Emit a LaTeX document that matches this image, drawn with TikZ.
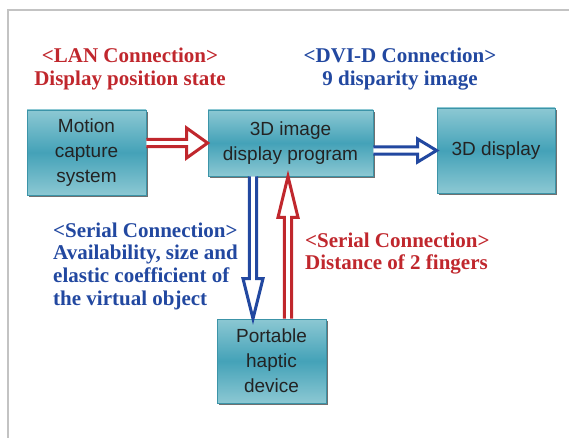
\documentclass[tikz,border=0pt]{standalone}
\usepackage{fontspec}
\setmainfont{Liberation Serif}
\setsansfont{Liberation Sans}
\usetikzlibrary{calc,shadows}

\definecolor{boxtop}{RGB}{140,200,211}
\definecolor{boxmid}{RGB}{68,162,184}
\definecolor{boxline}{RGB}{60,148,168}
\definecolor{boxtext}{RGB}{35,35,35}
\definecolor{linkred}{RGB}{192,39,45}
\definecolor{linkblue}{RGB}{34,72,160}
\definecolor{framegray}{RGB}{195,195,195}

% hollow block arrow pointing right: from, to, colour, head half height, head length
\newcommand{\hblock}[5]{%
  \draw[blockarrow,draw=#3] let \p1=(#1), \p2=(#2) in
    (\x1,\y2+3.6pt) -- (\x2-#5,\y2+3.6pt) -- (\x2-#5,\y2+#4) -- (\x2,\y2)
    -- (\x2-#5,\y2-#4) -- (\x2-#5,\y2-3.6pt) -- (\x1,\y2-3.6pt);}
% hollow block arrow up or down: from, to, colour, head half width, signed head length
\newcommand{\vblock}[5]{%
  \draw[blockarrow,draw=#3] let \p1=(#1), \p2=(#2) in
    (\x2-3.6pt,\y1) -- (\x2-3.6pt,{\y2+(#5)}) -- (\x2-#4,{\y2+(#5)}) -- (\x2,\y2)
    -- (\x2+#4,{\y2+(#5)}) -- (\x2+3.6pt,{\y2+(#5)}) -- (\x2+3.6pt,\y1);}

\begin{document}
\begin{tikzpicture}[x=1pt,y=1pt,
  box/.style={draw=boxline,line width=.8pt,top color=boxtop,bottom color=boxtop,
    middle color=boxmid,inner sep=0pt,align=center,text=boxtext,
    font=\sffamily\fontsize{19}{25}\selectfont,
    drop shadow={shadow xshift=1.6pt,shadow yshift=-1.6pt,opacity=.75,fill=black!75}},
  lbl/.style={inner sep=0pt,font=\bfseries\fontsize{21}{22.7}\selectfont},
  blockarrow/.style={line width=3pt,fill=white}]

  \useasboundingbox (0,0) rectangle (569,-438);
  \draw[framegray,line width=1.6pt] (8,-438) -- (8,-10) -- (569,-10);

  \path (86.5,-152.5) node[box,minimum width=119pt,minimum height=85pt] (mocap) {Motion\\capture\\system};
  \path (290.5,-143) node[box,minimum width=165pt,minimum height=66pt] (prog) {3D image\\display program};
  \path (496,-150.5) node[box,minimum width=118pt,minimum height=85pt] (disp) {3D display};
  \path (271.5,-361) node[box,minimum width=109pt,minimum height=84pt] (haptic) {Portable\\haptic\\device};

  \path (130,-69) node[lbl,text=linkred,align=center] (lanlbl) {<LAN Connection>\\Display position state};
  \path (400,-69) node[lbl,text=linkblue,align=center] (dvilbl) {<DVI-D Connection>\\9 disparity image};
  \path (53,-266) node[lbl,text=linkblue,align=left,anchor=west] (seriallbl) {<Serial Connection>\\Availability, size and\\elastic coefficient of\\the virtual object};
  \path (305,-253.5) node[lbl,text=linkred,align=left,anchor=west] (fingerlbl) {<Serial Connection>\\Distance of 2 fingers};

  \coordinate (dn) at (253,0);
  \coordinate (up) at (288,0);

  \hblock{mocap.east}{prog.west}{linkred}{15pt}{21pt}
  \hblock{prog.east}{disp.west}{linkblue}{11.5pt}{19pt}
  \vblock{dn |- prog.south}{dn |- haptic.north}{linkblue}{10pt}{40pt}
  \vblock{up |- haptic.north}{up |- prog.south}{linkred}{10pt}{-41pt}

\end{tikzpicture}
\end{document}
